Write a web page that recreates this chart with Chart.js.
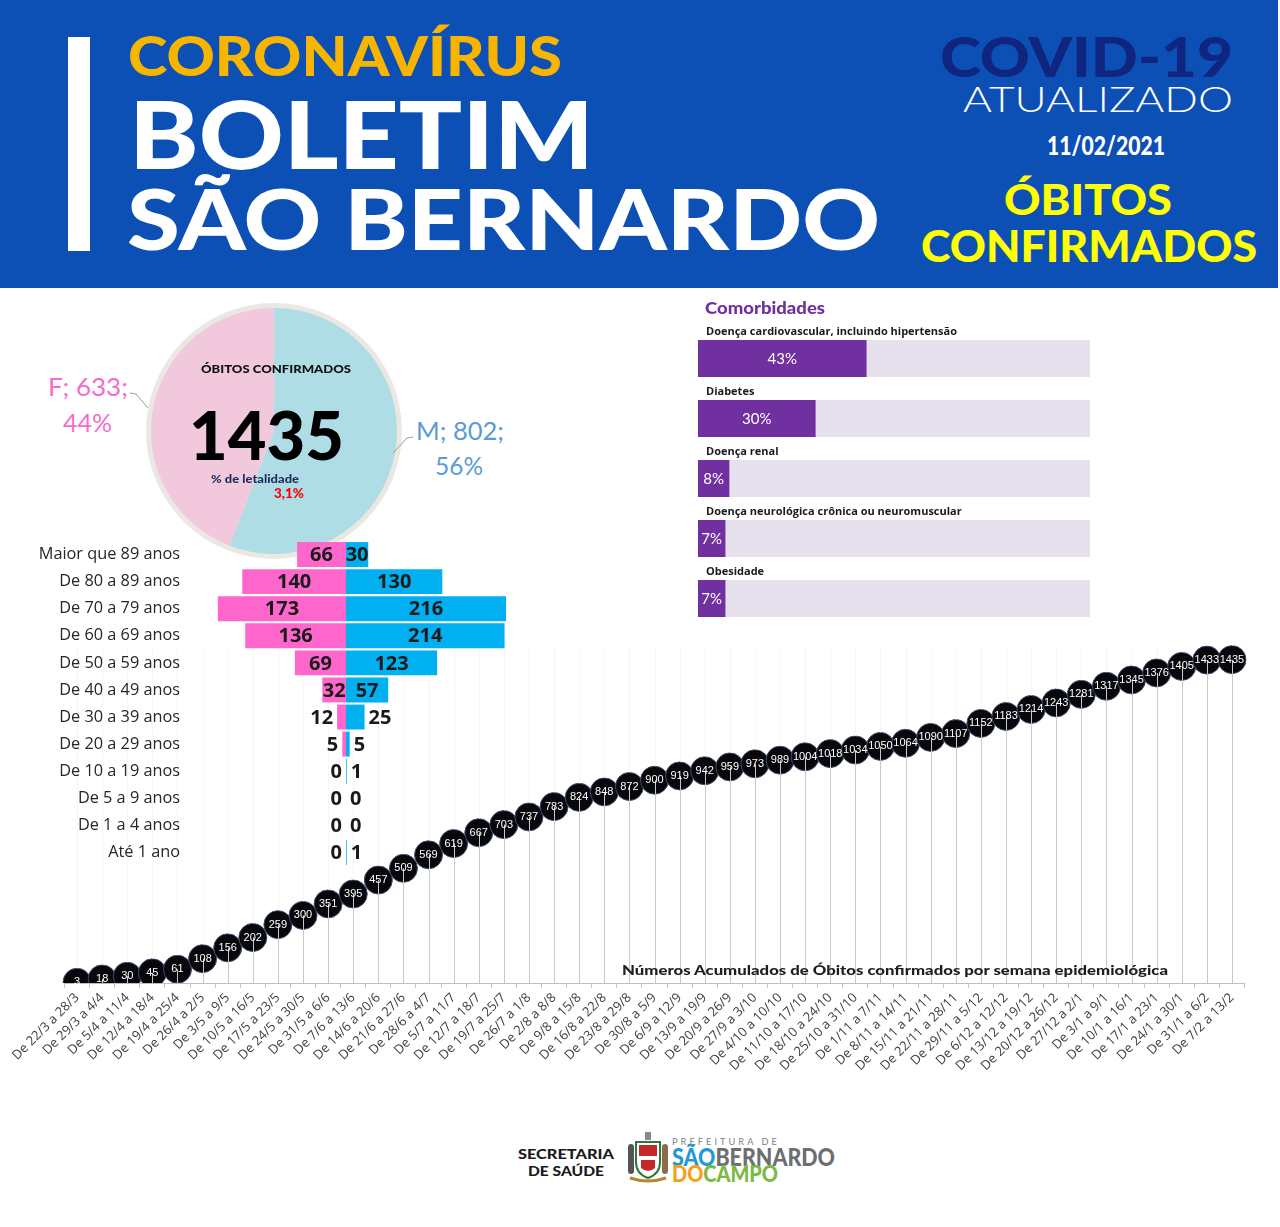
<!DOCTYPE html>
<html lang="pt-BR">
<head>
<meta charset="utf-8">
<title>Boletim São Bernardo - Óbitos confirmados</title>
<script src="https://cdn.jsdelivr.net/npm/chart.js@4.4.1/dist/chart.umd.min.js"></script>
<style>
  body { margin: 0; width: 1280px; height: 1227px; position: relative; background: #fff; overflow: hidden;
         font-family: "Lato", "Open Sans", sans-serif; }
  .abs { position: absolute; white-space: nowrap; line-height: 1; transform-origin: left top; }
  canvas { position: absolute; }
  #header { position: absolute; left: 0; top: 0; width: 1278px; height: 288px; background: #0c4fb5; }
</style>
</head>
<body>

<div id="header"></div>
<div class="abs" style="left:68px;top:37px;width:22px;height:214px;background:#fff"></div>
<div class="abs" data-w="434" style="left:128px;top:27px;font-size:56px;font-weight:900;color:#f7b500">CORONAVÍRUS</div>
<div class="abs" data-w="465" style="left:129px;top:87px;font-size:93px;font-weight:900;color:#fff">BOLETIM</div>
<div class="abs" data-w="753" style="left:127px;top:176px;font-size:84px;font-weight:900;color:#fff">SÃO BERNARDO</div>
<div class="abs" data-w="293" style="left:940px;top:28px;font-size:56px;font-weight:900;color:#0f2580">COVID-19</div>
<div class="abs" data-w="270" style="left:963px;top:80px;font-size:36px;font-weight:300;color:#fff">ATUALIZADO</div>
<div class="abs" data-w="118" style="left:1047px;top:132px;font-size:26px;font-weight:900;color:#fff">11/02/2021</div>
<div class="abs" data-w="168" style="left:1004px;top:178px;font-size:42px;font-weight:900;color:#ffff00">ÓBITOS</div>
<div class="abs" data-w="336" style="left:921px;top:223px;font-size:44px;font-weight:900;color:#ffff00">CONFIRMADOS</div>

<!-- pizza por sexo -->
<canvas id="pieChart" width="256" height="256" style="left:146px;top:303px"></canvas>
<div class="abs" data-w="150" style="left:201px;top:363px;font-size:12px;font-weight:900;color:#111">ÓBITOS CONFIRMADOS</div>
<div class="abs" id="totalTxt" data-w="155" style="left:189px;top:401px;font-size:67px;font-weight:900;color:#000"></div>
<div class="abs" data-w="88" style="left:211px;top:473px;font-size:11.5px;font-weight:900;color:#1f2f5c">% de letalidade</div>
<div class="abs" data-w="30" style="left:274px;top:486px;font-size:14px;font-weight:900;color:#f00">3,1%</div>
<div class="abs" id="fLab1" data-w="80" style="left:48px;top:374px;font-size:25px;color:#f46dce"></div>
<div class="abs" id="fLab2" data-w="49" style="left:63px;top:410px;font-size:25px;color:#f46dce"></div>
<div class="abs" id="mLab1" data-w="88" style="left:416px;top:418px;font-size:25px;color:#5b9bd5"></div>
<div class="abs" id="mLab2" data-w="48" style="left:435px;top:453px;font-size:25px;color:#5b9bd5"></div>
<svg class="abs" width="1280" height="600" style="left:0;top:0;pointer-events:none">
  <polyline points="130,393 136,394 148,408" fill="none" stroke="#9a9a9a" stroke-width="1"/>
  <polyline points="413,437 407,438 393,453" fill="none" stroke="#9a9a9a" stroke-width="1"/>
</svg>

<!-- comorbidades -->
<div class="abs" data-w="120" style="left:705px;top:299px;font-size:17px;font-weight:900;color:#7030a0">Comorbidades</div>
<canvas id="comorbChart" width="410" height="335" style="left:690px;top:295px"></canvas>

<!-- linha acumulada -->
<canvas id="lineChart" width="1280" height="450" style="left:0;top:630px"></canvas>
<div class="abs" data-w="546" style="left:622px;top:963px;font-size:14px;font-weight:900;color:#1e1e1e">Números Acumulados de Óbitos confirmados por semana epidemiológica</div>

<!-- pirâmide etária -->
<canvas id="pyramidChart" width="530" height="351" style="left:0;top:527.5px"></canvas>

<!-- rodapé -->
<div class="abs" data-w="96" style="left:518px;top:1147px;font-size:14px;font-weight:900;color:#1a1a1a">SECRETARIA</div>
<div class="abs" data-w="76" style="left:528px;top:1164px;font-size:14px;font-weight:900;color:#1a1a1a">DE SAÚDE</div>
<svg class="abs" width="44" height="52" style="left:626px;top:1132px">
  <rect x="19" y="0" width="6" height="8" fill="#888"/>
  <path d="M10 10 H34 V30 Q34 42 22 46 Q10 42 10 30 Z" fill="#fff" stroke="#2b7a3b" stroke-width="2"/>
  <path d="M13 13 H31 V24 H13 Z" fill="#c62828"/>
  <path d="M15 28 H29 V36 Q22 42 15 36 Z" fill="#c62828"/>
  <rect x="2" y="12" width="6" height="30" rx="3" fill="#555"/>
  <rect x="36" y="12" width="6" height="30" rx="3" fill="#8a6d4a"/>
  <path d="M4 46 Q22 52 40 46" fill="none" stroke="#b08a2e" stroke-width="3"/>
</svg>
<div class="abs" data-w="108" style="left:672px;top:1137px;font-size:9px;letter-spacing:3px;color:#808080">PREFEITURA DE</div>
<div class="abs" data-w="163" style="left:672px;top:1144px;font-size:25px;font-weight:900"><span style="color:#1e9ad6">SÃO</span><span style="color:#6d6e71">BERNARDO</span></div>
<div class="abs" data-w="106" style="left:672px;top:1163px;font-size:22px;font-weight:900"><span style="color:#f6a01a">DO</span><span style="color:#7ab943">CAMPO</span></div>

<script>
// óbitos acumulados por semana epidemiológica
const weekLabels = [
  'De 22/3 a 28/3', 'De 29/3 a 4/4', 'De 5/4 a 11/4', 'De 12/4 a 18/4', 'De 19/4 a 25/4',
  'De 26/4 a 2/5', 'De 3/5 a 9/5', 'De 10/5 a 16/5', 'De 17/5 a 23/5', 'De 24/5 a 30/5',
  'De 31/5 a 6/6', 'De 7/6 a 13/6', 'De 14/6 a 20/6', 'De 21/6 a 27/6', 'De 28/6 a 4/7',
  'De 5/7 a 11/7', 'De 12/7 a 18/7', 'De 19/7 a 25/7', 'De 26/7 a 1/8', 'De 2/8 a 8/8',
  'De 9/8 a 15/8', 'De 16/8 a 22/8', 'De 23/8 a 29/8', 'De 30/8 a 5/9', 'De 6/9 a 12/9',
  'De 13/9 a 19/9', 'De 20/9 a 26/9', 'De 27/9 a 3/10', 'De 4/10 a 10/10', 'De 11/10 a 17/10',
  'De 18/10 a 24/10', 'De 25/10 a 31/10', 'De 1/11 a 7/11', 'De 8/11 a 14/11', 'De 15/11 a 21/11',
  'De 22/11 a 28/11', 'De 29/11 a 5/12', 'De 6/12 a 12/12', 'De 13/12 a 19/12', 'De 20/12 a 26/12',
  'De 27/12 a 2/1', 'De 3/1 a 9/1', 'De 10/1 a 16/1', 'De 17/1 a 23/1', 'De 24/1 a 30/1',
  'De 31/1 a 6/2', 'De 7/2 a 13/2'
];
const cumulativeDeaths = [
  3, 18, 30, 45, 61, 108, 156, 202, 259, 300,
  351, 395, 457, 509, 569, 619, 667, 703, 737, 783,
  824, 848, 872, 900, 919, 942, 959, 973, 989, 1004,
  1018, 1034, 1050, 1064, 1090, 1107, 1152, 1183, 1214, 1243,
  1281, 1317, 1345, 1376, 1405, 1433, 1435
];

// faixa etária
const ageGroups = ['Maior que 89 anos', 'De 80 a 89 anos', 'De 70 a 79 anos', 'De 60 a 69 anos',
  'De 50 a 59 anos', 'De 40 a 49 anos', 'De 30 a 39 anos', 'De 20 a 29 anos',
  'De 10 a 19 anos', 'De 5 a 9 anos', 'De 1 a 4 anos', 'Até 1 ano'];
const femaleByAge = [66, 140, 173, 136, 69, 32, 12, 5, 0, 0, 0, 0];
const maleByAge = [30, 130, 216, 214, 123, 57, 25, 5, 1, 0, 0, 1];

// sexo
const sexLabels = ['M', 'F'];
const sexCounts = [802, 633];

// comorbidades (%)
const comorbidities = ['Doença cardiovascular, incluindo hipertensão', 'Diabetes', 'Doença renal',
  'Doença neurológica crônica ou neuromuscular', 'Obesidade'];
const comorbidityPct = [43, 30, 8, 7, 7];

const total = sexCounts[0] + sexCounts[1];
document.getElementById('totalTxt').textContent = total;
document.getElementById('fLab1').textContent = sexLabels[1] + '; ' + sexCounts[1] + ';';
document.getElementById('fLab2').textContent = Math.round(sexCounts[1] / total * 100) + '%';
document.getElementById('mLab1').textContent = sexLabels[0] + '; ' + sexCounts[0] + ';';
document.getElementById('mLab2').textContent = Math.round(sexCounts[0] / total * 100) + '%';

const noPlugins = { legend: { display: false }, tooltip: { enabled: false } };

// pizza
const pieRing = {
  id: 'pieRing',
  beforeDatasetsDraw(chart) {
    const arc = chart.getDatasetMeta(0).data[0];
    const ctx = chart.ctx;
    ctx.save();
    ctx.beginPath();
    ctx.arc(arc.x, arc.y, arc.outerRadius + 5, 0, Math.PI * 2);
    ctx.fillStyle = '#ebe8e3';
    ctx.fill();
    ctx.restore();
  }
};
new Chart(document.getElementById('pieChart'), {
  type: 'pie',
  data: {
    labels: sexLabels,
    datasets: [{ data: sexCounts, backgroundColor: ['#aeddE6', '#f2c8dc'], borderWidth: 0 }]
  },
  options: { responsive: false, animation: false, layout: { padding: 5 }, plugins: noPlugins },
  plugins: [pieRing]
});

// comorbidades
const comorbLabels = {
  id: 'comorbLabels',
  afterDatasetsDraw(chart) {
    const ctx = chart.ctx;
    const bars = chart.getDatasetMeta(0).data;
    ctx.save();
    bars.forEach((bar, i) => {
      const top = bar.y - bar.height / 2;
      ctx.font = 'bold 11px "Open Sans", sans-serif';
      ctx.fillStyle = '#1a1a1a';
      ctx.textAlign = 'left';
      ctx.textBaseline = 'alphabetic';
      ctx.fillText(comorbidities[i], chart.chartArea.left + 8, top - 5);
      ctx.font = '15px Lato, sans-serif';
      ctx.fillStyle = '#fff';
      ctx.textAlign = 'center';
      ctx.textBaseline = 'middle';
      ctx.fillText(comorbidityPct[i] + '%', (bar.x + bar.base) / 2, bar.y + 1);
    });
    ctx.restore();
  }
};
new Chart(document.getElementById('comorbChart'), {
  type: 'bar',
  data: {
    labels: comorbidities,
    datasets: [
      { data: comorbidityPct, backgroundColor: '#7030a0', grouped: false, order: 1 },
      { data: comorbidityPct.map(() => 100), backgroundColor: '#e7e1ee', grouped: false, order: 2 }
    ]
  },
  options: {
    indexAxis: 'y', responsive: false, animation: false,
    layout: { padding: { left: 8, right: 10, top: 33.5, bottom: 1.5 } },
    datasets: { bar: { barPercentage: 0.62, categoryPercentage: 1 } },
    plugins: noPlugins,
    scales: { x: { display: false, min: 0, max: 100 }, y: { display: false } }
  },
  plugins: [comorbLabels]
});

// linha acumulada
const pointLabels = {
  id: 'pointLabels',
  afterDatasetsDraw(chart) {
    const ctx = chart.ctx;
    const area = chart.chartArea;
    const pts = chart.getDatasetMeta(0).data;
    ctx.save();
    ctx.lineWidth = 1;
    pts.forEach(p => {
      const x = Math.round(p.x) + 0.5;
      ctx.strokeStyle = '#f6f6f6';
      ctx.beginPath(); ctx.moveTo(x, area.top); ctx.lineTo(x, p.y - 14); ctx.stroke();
      ctx.strokeStyle = '#c8c8c8';
      ctx.beginPath(); ctx.moveTo(x, p.y); ctx.lineTo(x, area.bottom); ctx.stroke();
    });
    ctx.font = '11px "Liberation Sans", Arial, sans-serif';
    ctx.fillStyle = '#fff';
    ctx.textAlign = 'center';
    ctx.textBaseline = 'middle';
    pts.forEach((p, i) => ctx.fillText(cumulativeDeaths[i], p.x, p.y));
    ctx.restore();
  }
};
new Chart(document.getElementById('lineChart'), {
  type: 'line',
  data: {
    labels: weekLabels,
    datasets: [{
      data: cumulativeDeaths, showLine: false,
      pointRadius: 14, pointHoverRadius: 14,
      pointBackgroundColor: '#07070c', pointBorderColor: '#3d4f6e', pointBorderWidth: 1
    }]
  },
  options: {
    responsive: false, animation: false,
    layout: { padding: { left: 64.5, right: 35.5, top: 14, bottom: 0 } },
    plugins: noPlugins,
    scales: {
      x: {
        offset: true,
        grid: { offset: true, drawOnChartArea: false, tickLength: 5, color: '#c4c4c4' },
        border: { color: '#bfbfbf' },
        ticks: { autoSkip: false, maxRotation: 45, minRotation: 45, padding: 2, color: '#404040',
                 font: { family: '"Open Sans", sans-serif', size: 13 } },
        afterFit: s => { s.height = 97; }
      },
      y: { display: false, min: 0, max: 1500 }
    }
  },
  plugins: [pointLabels]
});

// pirâmide
const pyramidLabels = {
  id: 'pyramidLabels',
  afterDatasetsDraw(chart) {
    const ctx = chart.ctx;
    ctx.save();
    ctx.font = 'bold 20px "Open Sans", sans-serif';
    ctx.fillStyle = '#1a1a1a';
    ctx.textAlign = 'center';
    ctx.textBaseline = 'middle';
    const sets = [femaleByAge, maleByAge];
    sets.forEach((vals, di) => {
      chart.getDatasetMeta(di).data.forEach((bar, i) => {
        const txt = String(vals[i]);
        const w = ctx.measureText(txt).width;
        const len = Math.abs(bar.x - bar.base);
        const dir = di === 0 ? -1 : 1;
        let x;
        if (len >= w - 3) x = (bar.x + bar.base) / 2;
        else x = bar.x + dir * (w / 2 + 4);
        ctx.fillText(txt, x, bar.y + 1);
      });
    });
    ctx.restore();
  }
};
new Chart(document.getElementById('pyramidChart'), {
  type: 'bar',
  data: {
    labels: ageGroups,
    datasets: [
      { label: 'F', data: femaleByAge.map(v => -v), backgroundColor: '#ff66cc' },
      { label: 'M', data: maleByAge, backgroundColor: '#00b0f0' }
    ]
  },
  options: {
    indexAxis: 'y', responsive: false, animation: false,
    layout: { padding: { top: 13, right: 21, bottom: 13, left: 0 } },
    datasets: { bar: { barPercentage: 0.92, categoryPercentage: 1 } },
    plugins: noPlugins,
    scales: {
      x: { display: false, stacked: true, min: -220, max: 220 },
      y: {
        stacked: true,
        grid: { display: false, drawTicks: false },
        border: { display: false },
        ticks: { padding: 3, color: '#262626', font: { family: '"Open Sans", sans-serif', size: 16.3 } },
        afterFit: s => { s.width = 183; }
      }
    }
  },
  plugins: [pyramidLabels]
});

// ajusta largura dos textos
function fitAll() {
  document.querySelectorAll('[data-w]').forEach(el => {
    el.style.transform = 'none';
    const w = el.getBoundingClientRect().width;
    if (w > 0) el.style.transform = 'scaleX(' + (el.dataset.w / w) + ')';
  });
}
fitAll();
if (document.fonts) document.fonts.ready.then(fitAll);
</script>
</body>
</html>
